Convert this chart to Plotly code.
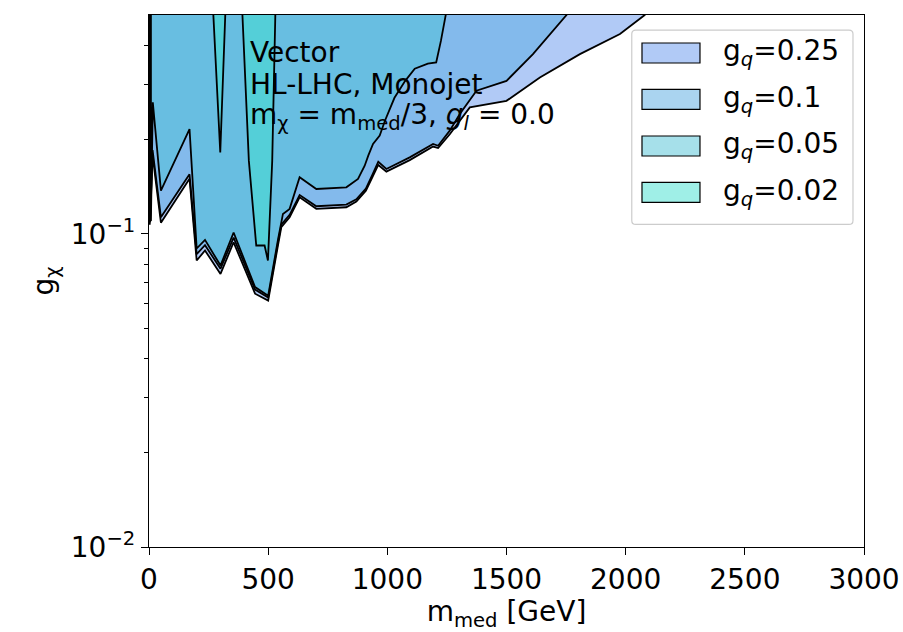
import math
import plotly.graph_objects as go

# Lower edge of the excluded region in the (m_med, g_chi) plane for each quark coupling.
mass_025 = [3, 15, 50, 170, 200, 235, 300, 355, 445, 500, 541, 555, 590, 632, 702, 828, 870, 910,
            938, 962, 996, 1094, 1192, 1213, 1262, 1300, 1346, 1500, 1640, 1808, 1976, 2080]
gchi_025 = [0.107, 0.178, 0.1086, 0.150, 0.0822, 0.0885, 0.0745, 0.094, 0.0644, 0.0612, 0.0918,
            0.105, 0.113, 0.1308, 0.1202, 0.1216, 0.1268, 0.1374, 0.152, 0.166, 0.158, 0.172,
            0.190, 0.188, 0.208, 0.228, 0.2535, 0.266, 0.316, 0.375, 0.435, 0.5]

mass_01 = [5, 15, 50, 170, 200, 235, 300, 355, 445, 500, 541, 555, 590, 632, 702, 828, 870, 910,
           938, 962, 996, 1094, 1192, 1213, 1262, 1304, 1374, 1500, 1611, 1752]
gchi_01 = [0.109, 0.185, 0.113, 0.155, 0.0862, 0.092, 0.0774, 0.0973, 0.0664, 0.0626, 0.094,
           0.107, 0.115, 0.133, 0.1225, 0.124, 0.129, 0.1395, 0.155, 0.170, 0.1612, 0.1755,
           0.1937, 0.1912, 0.2136, 0.2413, 0.2866, 0.308, 0.375, 0.5]

mass_005 = [8, 16, 50, 170, 200, 235, 300, 355, 445, 500, 541, 562, 590, 632, 702, 828, 877, 905,
            920, 940, 968, 990, 1030, 1075, 1115, 1170, 1205, 1225, 1245]
gchi_005 = [0.110, 0.263, 0.1375, 0.216, 0.0898, 0.0957, 0.0792, 0.101, 0.0676, 0.0635, 0.0957,
            0.1158, 0.1202, 0.1516, 0.1391, 0.1408, 0.1498, 0.1651, 0.1777, 0.1937, 0.2059,
            0.2298, 0.272, 0.308, 0.337, 0.3495, 0.353, 0.414, 0.5]

# g_q = 0.02 only reaches below the plot ceiling in two narrow windows
mass_002_a = [270, 299, 320]
gchi_002_a = [0.5, 0.182, 0.5]
mass_002_b = [392, 419, 450, 485, 499, 513, 517, 530]
gchi_002_b = [0.5, 0.171, 0.0918, 0.0918, 0.0822, 0.148, 0.171, 0.5]

coupling_labels = ["0.25", "0.1", "0.05", "0.02"]
fill_colors = ["rgba(100,149,237,0.5)", "rgba(86,170,226,0.5)",
               "rgba(77,193,213,0.5)", "rgba(64,224,208,0.5)"]

G_CEIL = 1.0  # polygons are closed above the visible range
Y_MIN, Y_MAX = 0.01, 0.5


def region(m, g, color):
    x = list(m) + [m[-1], m[0], m[0]]
    y = list(g) + [G_CEIL, G_CEIL, g[0]]
    return go.Scatter(x=x, y=y, mode="lines", fill="toself", fillcolor=color,
                      line=dict(color="black", width=1.8), showlegend=False, hoverinfo="skip")


fig = go.Figure()
fig.add_trace(region(mass_025, gchi_025, fill_colors[0]))
fig.add_trace(region(mass_01, gchi_01, fill_colors[1]))
fig.add_trace(region(mass_005, gchi_005, fill_colors[2]))
fig.add_trace(region(mass_002_a, gchi_002_a, fill_colors[3]))
fig.add_trace(region(mass_002_b, gchi_002_b, fill_colors[3]))

FONT = "DejaVu Sans"
FS = 28

fig.update_layout(
    width=903, height=632,
    margin=dict(l=149, r=39, t=15, b=85),
    paper_bgcolor="white", plot_bgcolor="white",
    font=dict(family=FONT, size=FS, color="black"),
    showlegend=False,
    xaxis=dict(range=[0, 3000], tickvals=[0, 500, 1000, 1500, 2000, 2500, 3000],
               ticks="outside", ticklen=7, tickwidth=1.2, tickcolor="black",
               showline=True, linecolor="black", linewidth=1.2, mirror=True,
               showgrid=False, zeroline=False, automargin=False,
               tickfont=dict(family=FONT, size=FS),
               title=dict(text="m<sub>med</sub> [GeV]", standoff=6,
                          font=dict(family=FONT, size=FS))),
    yaxis=dict(type="log", range=[math.log10(Y_MIN), math.log10(Y_MAX)],
               tickvals=[0.01, 0.1], ticktext=["10<sup>−2</sup>", "10<sup>−1</sup>"],
               ticks="outside", ticklen=7, tickwidth=1.2, tickcolor="black",
               minor=dict(tickvals=[0.02, 0.03, 0.04, 0.05, 0.06, 0.07, 0.08, 0.09, 0.2, 0.3, 0.4],
                          ticks="outside", ticklen=4, tickwidth=1, tickcolor="black"),
               showline=True, linecolor="black", linewidth=1.2, mirror=True,
               showgrid=False, zeroline=False, automargin=False,
               tickfont=dict(family=FONT, size=FS),
               title=dict(text="g<sub>χ</sub>", standoff=8,
                          font=dict(family=FONT, size=FS))),
)

# Label block in the upper left of the axes
text_lines = ["Vector", "HL-LHC, Monojet",
              "m<sub>χ</sub> = m<sub>med</sub>/3, <i>g<sub>l</sub></i> = 0.0"]
text_y = [0.930, 0.870, 0.810]
for line, yy in zip(text_lines, text_y):
    fig.add_annotation(text=line, xref="paper", yref="paper", x=0.1385, y=yy,
                       xanchor="left", yanchor="middle", showarrow=False,
                       font=dict(family=FONT, size=FS, color="black"))

# Legend: rounded frame, colour patches and labels (paper coordinates)
LX0, LX1, LY0, LY1 = 0.6752, 0.9846, 0.6064, 0.9716
rx, ry = 0.0056, 0.0075
frame_path = (f"M {LX0 + rx},{LY0} L {LX1 - rx},{LY0} Q {LX1},{LY0} {LX1},{LY0 + ry} "
              f"L {LX1},{LY1 - ry} Q {LX1},{LY1} {LX1 - rx},{LY1} "
              f"L {LX0 + rx},{LY1} Q {LX0},{LY1} {LX0},{LY1 - ry} "
              f"L {LX0},{LY0 + ry} Q {LX0},{LY0} {LX0 + rx},{LY0} Z")
fig.add_shape(type="path", path=frame_path, xref="paper", yref="paper",
              fillcolor="rgba(255,255,255,0.8)", line=dict(color="#cccccc", width=1.2))

item_y = [0.9286, 0.8414, 0.7538, 0.6667]
patch_x0, patch_x1, patch_h = 0.6895, 0.7706, 0.0188
for label, color, yc in zip(coupling_labels, fill_colors, item_y):
    fig.add_shape(type="rect", xref="paper", yref="paper",
                  x0=patch_x0, x1=patch_x1, y0=yc - patch_h, y1=yc + patch_h,
                  fillcolor=color, line=dict(color="black", width=1.2))
    fig.add_annotation(text="g<sub><i>q</i></sub>=" + label, xref="paper", yref="paper",
                       x=0.8006, y=yc, xanchor="left", yanchor="middle", showarrow=False,
                       font=dict(family=FONT, size=FS, color="black"))

fig.write_html("out.html")
